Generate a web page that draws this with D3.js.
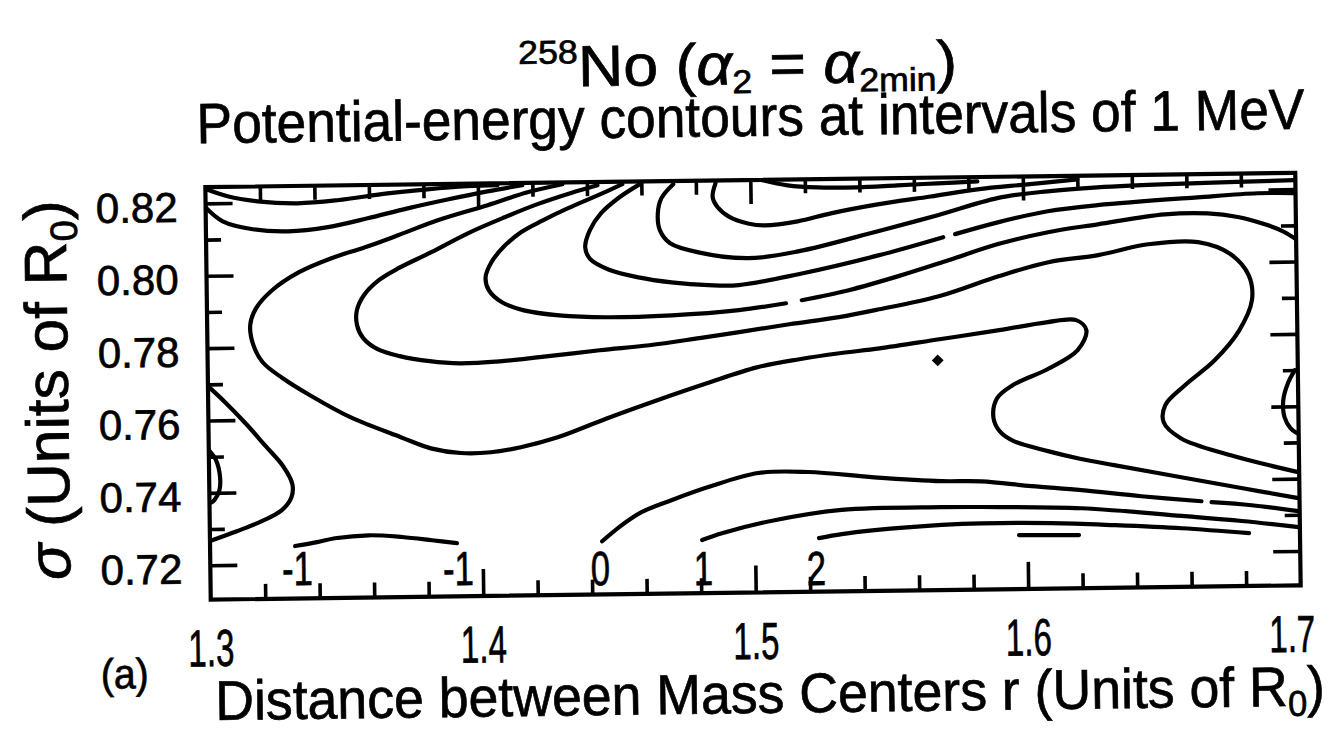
<!DOCTYPE html>
<html>
<head>
<meta charset="utf-8">
<script src="https://cdn.jsdelivr.net/npm/d3@7"></script>
<style>
  html, body { margin: 0; padding: 0; background: #fff; }
  svg { display: block; }
  text { font-family: "Liberation Sans", Arial, Helvetica, sans-serif; fill: #000; stroke: #000; stroke-width: 0.7px; }
</style>
</head>
<body>
<svg id="chart" width="1334" height="750"></svg>
<script>
// ---- axis values ----
const xTickValues = [1.3, 1.4, 1.5, 1.6, 1.7];
const yTickValues = [0.72, 0.74, 0.76, 0.78, 0.80, 0.82];
const xDomain = [1.3, 1.7];
const yDomain = [0.7105, 0.8245];

// ---- potential-energy contour lines, [r, sigma] ----
const edgeTopLeft = [[1.3004,0.8239],[1.3081,0.8219],[1.3191,0.8204],[1.3338,0.8197],[1.3484,0.8204],[1.3668,0.8221],[1.3815,0.8231],[1.3961,0.8238],[1.4072,0.8240]];
const contourA = [[1.3000,0.8189],[1.3062,0.8150],[1.3172,0.8127],[1.3301,0.8120],[1.3448,0.8130],[1.3594,0.8153],[1.3741,0.8179],[1.3888,0.8202],[1.4035,0.8223],[1.4163,0.8239]];
const contourB = [[1.4310,0.8240],[1.4182,0.8219],[1.4035,0.8185],[1.3851,0.8145],[1.3705,0.8105],[1.3583,0.8073],[1.3459,0.8044],[1.3338,0.8006],[1.3239,0.7957],[1.3180,0.7908],[1.3158,0.7862],[1.3169,0.7806],[1.3202,0.7759],[1.3275,0.7714],[1.3374,0.7666],[1.3521,0.7604],[1.3705,0.7547],[1.3815,0.7515],[1.3925,0.7501],[1.4035,0.7502],[1.4145,0.7515],[1.4281,0.7541],[1.4464,0.7592],[1.4648,0.7640],[1.4831,0.7685],[1.5015,0.7727],[1.5172,0.7748],[1.5319,0.7763],[1.5466,0.7775],[1.5686,0.7798],[1.5906,0.7821],[1.6079,0.7841],[1.6189,0.7846],[1.6226,0.7818],[1.6193,0.7763],[1.6083,0.7712],[1.5954,0.7669],[1.5895,0.7633],[1.5881,0.7578],[1.5906,0.7539],[1.5954,0.7514],[1.6079,0.7485],[1.6200,0.7462],[1.6321,0.7444],[1.6567,0.7408],[1.6787,0.7376],[1.6996,0.7346]];
const contourS = [[1.4439,0.8236],[1.4339,0.8215],[1.4218,0.8186],[1.4097,0.8151],[1.3961,0.8108],[1.3826,0.8057],[1.3705,0.8014],[1.3631,0.7981],[1.3576,0.7940],[1.3550,0.7899],[1.3550,0.7858],[1.3572,0.7822],[1.3624,0.7791],[1.3705,0.7771],[1.3815,0.7756],[1.3925,0.7749],[1.4072,0.7753],[1.4218,0.7763],[1.4439,0.7780],[1.4622,0.7792],[1.4806,0.7810],[1.4952,0.7825],[1.5136,0.7845],[1.5319,0.7863],[1.5466,0.7883],[1.5686,0.7917],[1.5906,0.7970],[1.6090,0.8007],[1.6273,0.8025],[1.6457,0.8053],[1.6640,0.8057],[1.6758,0.8023],[1.6824,0.7964],[1.6835,0.7895],[1.6787,0.7812],[1.6695,0.7730],[1.6585,0.7662],[1.6512,0.7608],[1.6505,0.7561],[1.6567,0.7516],[1.6750,0.7467],[1.6996,0.7418]];
const contourC1 = [[1.4530,0.8238],[1.4439,0.8208],[1.4328,0.8173],[1.4237,0.8141],[1.4156,0.8109],[1.4090,0.8068],[1.4046,0.8027],[1.4024,0.7986],[1.4035,0.7950],[1.4083,0.7916],[1.4163,0.7893],[1.4292,0.7878],[1.4464,0.7871],[1.4706,0.7874],[1.4952,0.7886],[1.5125,0.7903]];
const contourC2 = [[1.5183,0.7911],[1.5356,0.7937],[1.5539,0.7974],[1.5723,0.8016],[1.5906,0.8059],[1.6090,0.8090],[1.6273,0.8110],[1.6519,0.8135],[1.6677,0.8136],[1.6787,0.8125],[1.6886,0.8104],[1.6952,0.8084],[1.6996,0.8064]];
const contourU1a = [[1.4593,0.8237],[1.4519,0.8202],[1.4450,0.8158],[1.4409,0.8112],[1.4391,0.8065],[1.4409,0.8032],[1.4475,0.8003],[1.4585,0.7980],[1.4706,0.7965],[1.4842,0.7956],[1.4952,0.7955],[1.5172,0.7983],[1.5466,0.8032],[1.5705,0.8080]];
const contourU1b = [[1.5749,0.8088],[1.5906,0.8119],[1.6090,0.8148],[1.6273,0.8163],[1.6640,0.8181],[1.6861,0.8190],[1.6996,0.8189]];
const contourU2 = [[1.4717,0.8236],[1.4673,0.8198],[1.4659,0.8156],[1.4666,0.8109],[1.4703,0.8073],[1.4806,0.8047],[1.4989,0.8029],[1.5172,0.8046],[1.5466,0.8099],[1.5686,0.8141],[1.5906,0.8186],[1.6090,0.8203],[1.6273,0.8212],[1.6640,0.8220],[1.6996,0.8225]];
const contourU3 = [[1.4872,0.8237],[1.4861,0.8199],[1.4879,0.8171],[1.4923,0.8143],[1.4989,0.8125],[1.5051,0.8119],[1.5172,0.8129],[1.5294,0.8150],[1.5466,0.8173],[1.5661,0.8193],[1.5833,0.8211],[1.6017,0.8223],[1.6200,0.8235]];
const contourU4 = [[1.5044,0.8244],[1.5136,0.8229],[1.5246,0.8222],[1.5393,0.8221],[1.5539,0.8225],[1.5686,0.8229],[1.5833,0.8233]];
const edgeLeft = [[1.3000,0.7695],[1.3062,0.7650],[1.3136,0.7591],[1.3209,0.7527],[1.3272,0.7471],[1.3305,0.7421],[1.3301,0.7385],[1.3264,0.7349],[1.3191,0.7320],[1.3099,0.7293],[1.3000,0.7267]];
const edgeLeftSmall = [[1.3000,0.7518],[1.3026,0.7490],[1.3040,0.7443],[1.3037,0.7407],[1.3018,0.7380],[1.3004,0.7372]];
const edgeRightSmall = [[1.6989,0.7700],[1.6963,0.7664],[1.6945,0.7617],[1.6949,0.7570],[1.6970,0.7540],[1.6993,0.7526]];
const level0a = [[1.4439,0.7252],[1.4512,0.7296],[1.4585,0.7331],[1.4695,0.7363],[1.4831,0.7398],[1.5015,0.7435],[1.5198,0.7436],[1.5440,0.7419],[1.5686,0.7406],[1.5833,0.7404],[1.6017,0.7389],[1.6200,0.7376],[1.6420,0.7357],[1.6640,0.7341]];
const level0b = [[1.6677,0.7338],[1.6824,0.7328],[1.6996,0.7310]];
const level1 = [[1.4806,0.7252],[1.4879,0.7270],[1.5073,0.7304],[1.5319,0.7330],[1.5686,0.7334],[1.5833,0.7333],[1.6200,0.7326],[1.6567,0.7301],[1.6787,0.7285],[1.6996,0.7266]];
const level2 = [[1.5235,0.7253],[1.5319,0.7263],[1.5440,0.7273],[1.5686,0.7285],[1.5833,0.7288],[1.6090,0.7286],[1.6321,0.7278],[1.6567,0.7267],[1.6813,0.7251]];
const level3 = [[1.5969,0.7254],[1.6189,0.7252]];
const levelMinus1 = [[1.3312,0.7250],[1.3393,0.7260],[1.3459,0.7270],[1.3583,0.7277],[1.3705,0.7271],[1.3815,0.7261],[1.3906,0.7252]];

const contours = [edgeTopLeft, contourA, contourB, contourS, contourC1, contourC2,
  contourU1a, contourU1b, contourU2, contourU3, contourU4, edgeLeft, edgeLeftSmall,
  edgeRightSmall, level0a, level0b, level1, level2, level3, levelMinus1];

// energy minimum
const minimumPoint = [1.5679, 0.7740];

// level labels along the lower edge
const labelText = ["-1", "-1", "0", "1", "2"];
const labelR = [1.3319, 1.3910, 1.4431, 1.4809, 1.5224];
const labelSigma = [0.7142, 0.7136, 0.7131, 0.7127, 0.7123];

// ---- layout ----
const plot = { left: 208, right: 1298, top: 180, bottom: 592.5 };
const x = d3.scaleLinear().domain(xDomain).range([plot.left, plot.right]);
const y = d3.scaleLinear().domain(yDomain).range([plot.bottom, plot.top]);
const INK = "#000";
const LW = 4.2;

const svg = d3.select("#chart");
svg.append("rect").attr("width", 1334).attr("height", 750).attr("fill", "#fff");
const root = svg.append("g").attr("transform", "rotate(-0.75 752 386)");

// squeeze a text horizontally to a given width
function fitWidth(sel, target) {
  sel.each(function () {
    const w = this.getBBox().width;
    if (w > 0) d3.select(this).attr("transform", `scale(${target / w},1)`);
  });
}

// ---- frame & ticks ----
const xMinor = d3.range(1.32, 1.69, 0.02).filter(v => Math.abs(v * 10 - Math.round(v * 10)) > 0.01);
const xMajor = [1.4, 1.5, 1.6];
const yMinor = [0.73, 0.75, 0.77, 0.79, 0.81];
const yMajor = yTickValues;

function tickAxis(axis, pos, values, size) {
  const g = root.append("g").attr("transform", pos)
    .call(axis.tickValues(values).tickSize(size).tickFormat(""));
  g.select(".domain").remove();
  g.selectAll("line").attr("stroke", INK).attr("stroke-width", 3.6);
  return g;
}
tickAxis(d3.axisBottom(x), `translate(0,${plot.bottom})`, xMajor, -27);
tickAxis(d3.axisBottom(x), `translate(0,${plot.bottom})`, xMinor, -15);
tickAxis(d3.axisTop(x), `translate(0,${plot.top})`, xMajor, -24);
tickAxis(d3.axisTop(x), `translate(0,${plot.top})`, xMinor, -14);
tickAxis(d3.axisLeft(y), `translate(${plot.left},0)`, yMajor, -27);
tickAxis(d3.axisLeft(y), `translate(${plot.left},0)`, yMinor, -15);
tickAxis(d3.axisRight(y), `translate(${plot.right},0)`, yMajor, -27);
tickAxis(d3.axisRight(y), `translate(${plot.right},0)`, yMinor, -15);

root.append("rect")
  .attr("x", plot.left).attr("y", plot.top)
  .attr("width", plot.right - plot.left).attr("height", plot.bottom - plot.top)
  .attr("fill", "none").attr("stroke", INK).attr("stroke-width", 4.2);

// ---- contours ----
root.append("clipPath").attr("id", "plotClip").append("rect")
  .attr("x", plot.left).attr("y", plot.top)
  .attr("width", plot.right - plot.left).attr("height", plot.bottom - plot.top);

const line = d3.line().x(d => x(d[0])).y(d => y(d[1])).curve(d3.curveCatmullRom.alpha(0.5));
root.append("g").attr("clip-path", "url(#plotClip)")
  .selectAll("path").data(contours).join("path")
  .attr("d", line)
  .attr("fill", "none").attr("stroke", INK).attr("stroke-width", LW)
  .attr("stroke-linecap", "round").attr("stroke-linejoin", "round");

root.append("path")
  .attr("d", d3.symbol(d3.symbolSquare, 70)())
  .attr("transform", `translate(${x(minimumPoint[0])},${y(minimumPoint[1])}) rotate(45)`)
  .attr("fill", INK);

// level labels
labelText.forEach((t, i) => {
  root.append("g").attr("transform", `translate(${x(labelR[i])},${y(labelSigma[i])})`)
    .append("text").attr("text-anchor", "middle").attr("font-size", 48)
    .attr("transform", "scale(0.72,1)").text(t);
});

// ---- tick labels ----
xTickValues.forEach((v, i) => {
  const nudge = i === xTickValues.length - 1 ? -9 : 0;
  root.append("g").attr("transform", `translate(${x(v) + nudge},659)`)
    .append("text").attr("text-anchor", "middle").attr("font-size", 52)
    .text(d3.format(".1f")(v))
    .call(fitWidth, 46);
});
yTickValues.forEach(v => {
  root.append("text")
    .attr("x", 180).attr("y", y(v) + 3).attr("dy", "0.36em")
    .attr("text-anchor", "end").attr("font-size", 42)
    .text(d3.format(".2f")(v));
});

// ---- titles ----
const t1 = root.append("g").attr("transform", "translate(742,84)")
  .append("text").attr("text-anchor", "middle").attr("font-size", 58);
t1.append("tspan").attr("font-size", 33).attr("dy", -23).text("258");
t1.append("tspan").attr("dy", 23).text("No (");
t1.append("tspan").attr("font-style", "italic").text("α");
t1.append("tspan").attr("font-size", 33).attr("dy", 9).text("2");
t1.append("tspan").attr("dy", -9).text(" = ");
t1.append("tspan").attr("font-style", "italic").text("α");
t1.append("tspan").attr("font-size", 33).attr("dy", 9).text("2min");
t1.append("tspan").attr("dy", -9).text(")");
fitWidth(t1, 439);

root.append("g").attr("transform", "translate(754,136)")
  .append("text").attr("text-anchor", "middle").attr("font-size", 57)
  .text("Potential-energy contours at intervals of 1 MeV")
  .call(fitWidth, 1108);

const xl = root.append("g").attr("transform", "translate(766,713)")
  .append("text").attr("text-anchor", "middle").attr("font-size", 56);
xl.append("tspan").text("Distance between Mass Centers r (Units of R");
xl.append("tspan").attr("font-size", 36).attr("dy", 10).text("0");
xl.append("tspan").attr("dy", -10).text(")");
fitWidth(xl, 1110);

root.append("g").attr("transform", "translate(121,680)")
  .append("text").attr("text-anchor", "middle").attr("font-size", 42)
  .text("(a)").call(fitWidth, 48);

const yl = root.append("g").attr("transform", "translate(68,381) rotate(-90)")
  .append("text").attr("text-anchor", "middle").attr("font-size", 60);
yl.append("tspan").attr("font-style", "italic").text("σ");
yl.append("tspan").text(" (Units of R");
yl.append("tspan").attr("font-size", 38).attr("dy", 11).text("0");
yl.append("tspan").attr("dy", -11).text(")");
fitWidth(yl, 380);
</script>
</body>
</html>
